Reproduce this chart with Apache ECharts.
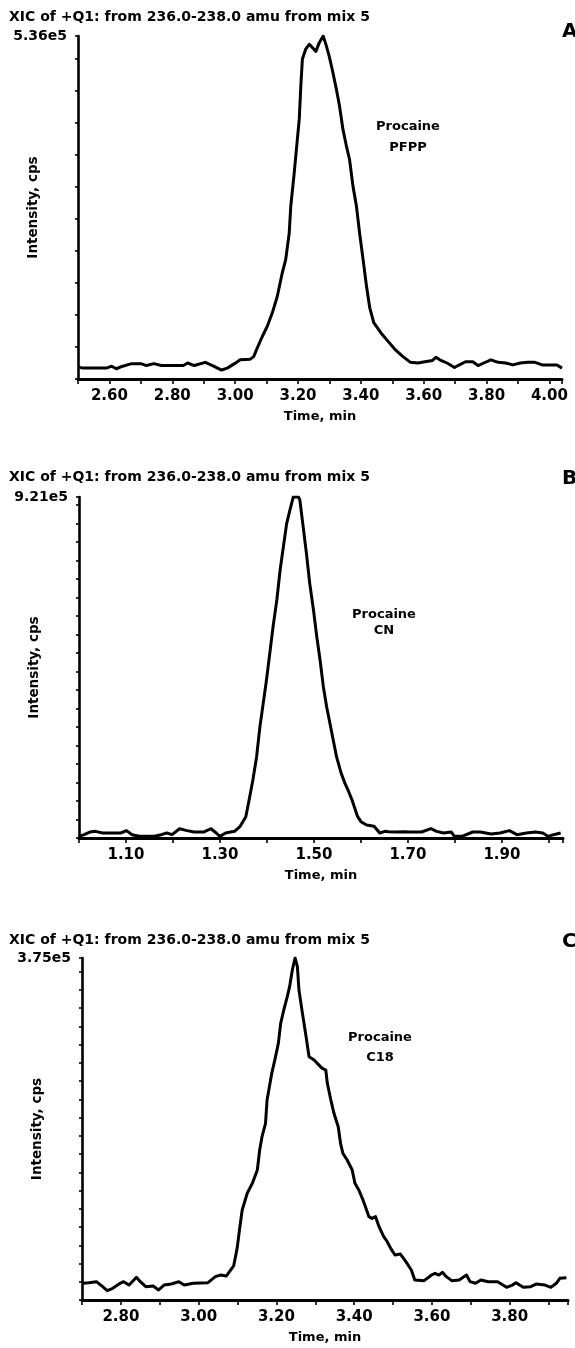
<!DOCTYPE html>
<html>
<head>
<meta charset="utf-8">
<script src="https://cdn.jsdelivr.net/npm/echarts@6/dist/echarts.min.js"></script>
<style>
html,body{margin:0;padding:0;background:#fff;}
#chart{width:575px;height:1348px;}
</style>
</head>
<body>
<div id="chart"></div>
<script>
// ---- data ----
var panelTitles = ['XIC of +Q1: from 236.0-238.0 amu from mix 5','XIC of +Q1: from 236.0-238.0 amu from mix 5','XIC of +Q1: from 236.0-238.0 amu from mix 5'];
var panelLetters = ['A','B','C'];
var compoundNames = ['Procaine','Procaine','Procaine'];
var columnNames = ['PFPP','CN','C18'];
var yMaxValues = [536000, 921000, 375000];
var yMaxLabels = ['5.36e5','9.21e5','3.75e5'];
var yTickSteps = [50000, 50000, 20000];
var xMins = [2.50, 1.00, 2.70];
var xMaxs = [4.04, 2.03, 3.95];
var xLabelParity = [0, 1, 0]; // labelled ticks: even tenths (A, C) or odd tenths (B)
var xAxisTitle = 'Time, min';
var yAxisTitle = 'Intensity, cps';

var timeA = [2.500,2.515,2.531,2.560,2.590,2.607,2.622,2.642,2.671,2.700,2.718,2.741,2.765,2.800,2.835,2.849,2.870,2.905,2.928,2.957,2.975,2.998,3.016,3.048,3.059,3.070,3.086,3.102,3.118,3.134,3.150,3.161,3.172,3.177,3.188,3.198,3.204,3.209,3.214,3.225,3.236,3.257,3.268,3.280,3.290,3.300,3.311,3.322,3.332,3.343,3.354,3.364,3.375,3.386,3.396,3.407,3.418,3.428,3.441,3.464,3.488,3.511,3.534,3.558,3.581,3.604,3.628,3.639,3.651,3.674,3.698,3.709,3.733,3.756,3.773,3.791,3.814,3.837,3.861,3.884,3.907,3.931,3.954,3.977,4.001,4.024,4.040];
var intensityA = [19000,17000,17000,17000,17000,20000,16000,20000,24000,24000,21000,24000,21000,21000,21000,25000,21000,26000,21000,14000,17000,24000,30000,31000,35000,48000,66000,82000,103000,129000,166000,187000,228000,270000,322000,375000,406000,458000,500000,516000,523000,512000,526000,536000,521000,503000,479000,453000,427000,390000,364000,343000,301000,270000,228000,187000,145000,112000,88000,72000,58000,45000,35000,26000,25000,27000,29000,34000,30000,25000,18000,21000,27000,27000,21000,25000,30000,26000,25000,22000,25000,26000,26000,22000,22000,22000,17000];

var timeB = [1.000,1.011,1.023,1.035,1.050,1.074,1.089,1.101,1.113,1.128,1.160,1.175,1.187,1.198,1.214,1.230,1.245,1.265,1.281,1.292,1.300,1.312,1.331,1.343,1.355,1.362,1.370,1.378,1.385,1.392,1.399,1.406,1.413,1.421,1.428,1.435,1.442,1.449,1.456,1.467,1.470,1.477,1.484,1.491,1.499,1.506,1.513,1.520,1.527,1.534,1.541,1.548,1.558,1.566,1.574,1.581,1.593,1.600,1.612,1.628,1.640,1.651,1.659,1.675,1.690,1.706,1.729,1.749,1.761,1.776,1.792,1.799,1.815,1.838,1.854,1.877,1.896,1.916,1.932,1.952,1.971,1.987,1.998,2.010,2.025];
var intensityB = [4500,9000,16000,18000,13500,13500,13500,20000,9000,4500,4500,9000,13500,9000,25000,20000,16000,16000,25000,13500,4500,13500,18000,31500,57600,102600,156700,219700,300700,363700,426800,498800,570800,642800,723900,786900,850000,886000,921000,921000,913000,840900,768900,687800,615800,543800,480800,408800,354700,309700,264700,219700,174700,147600,125000,102600,57600,44100,35100,31500,13500,18000,17100,16200,17100,16200,16200,25200,18000,13500,16200,4500,4500,16200,16200,11000,13500,20000,9000,13500,16200,13500,4500,9000,13500];

var timeC = [2.703,2.718,2.737,2.751,2.765,2.779,2.798,2.807,2.821,2.840,2.850,2.864,2.883,2.897,2.911,2.930,2.949,2.963,2.986,3.024,3.043,3.057,3.071,3.090,3.099,3.105,3.112,3.125,3.138,3.151,3.157,3.163,3.172,3.176,3.182,3.188,3.196,3.205,3.211,3.219,3.228,3.234,3.241,3.248,3.254,3.258,3.267,3.275,3.284,3.297,3.305,3.318,3.327,3.331,3.340,3.348,3.359,3.365,3.371,3.382,3.395,3.402,3.412,3.421,3.429,3.438,3.446,3.455,3.464,3.476,3.485,3.494,3.505,3.519,3.533,3.547,3.556,3.580,3.599,3.608,3.618,3.627,3.637,3.651,3.670,3.689,3.698,3.712,3.726,3.745,3.769,3.792,3.807,3.816,3.835,3.854,3.868,3.891,3.906,3.920,3.929,3.946];
var intensityC = [18300,19000,20100,15400,10200,12800,18300,20100,16400,24900,20100,14600,15400,11000,16400,17500,20100,16400,18300,19000,25600,27400,26300,37300,56600,76800,98700,117000,127900,142500,164500,179100,193700,219300,233900,248500,263200,281400,303400,318000,332600,343600,361800,375000,365500,339900,314300,292400,266800,263200,259500,254000,252200,237600,219300,204700,190000,171800,160800,153500,142500,127900,120600,111500,102300,91400,89500,91400,80400,69400,63900,56600,49300,50400,42000,32900,21900,21200,27400,29200,27400,30300,25600,21200,21900,27400,20100,18300,21900,20100,20100,13900,16400,19000,13900,14600,17500,16400,13900,18300,23800,24500];

var times = [timeA, timeB, timeC];
var intensities = [intensityA, intensityB, intensityC];

// ---- layout ----
var FONT = '"DejaVu Sans", Verdana, sans-serif';
var grids = [
  {left: 78, top: 36, width: 484, height: 343, outerBoundsMode: 'none', containLabel: false},
  {left: 79, top: 497, width: 484, height: 341, outerBoundsMode: 'none', containLabel: false},
  {left: 82, top: 958, width: 486, height: 342, outerBoundsMode: 'none', containLabel: false}
];
var titleY = [17, 477, 940];
var letterY = [32, 479, 942];
var compoundPos = [[408, 127, 148], [384, 615, 631], [380, 1038, 1058]];

var xAxes = [], yAxes = [], series = [], graphics = [];
for (var i = 0; i < 3; i++) {
  (function(i){
    xAxes.push({
      type: 'value', gridIndex: i, min: xMins[i], max: xMaxs[i], interval: 0.1,
      name: xAxisTitle, nameLocation: 'middle', nameGap: 31, nameMoveOverlap: false,
      nameTextStyle: {fontFamily: FONT, fontWeight: 'bold', fontSize: 13, color: '#000'},
      axisLine: {onZero: false, lineStyle: {color: '#000', width: 3}},
      axisTick: {show: true, inside: false, length: 5, lineStyle: {color: '#000', width: 1.6}},
      splitLine: {show: false},
      axisLabel: {
        margin: 10, color: '#000', fontFamily: FONT, fontWeight: 'bold', fontSize: 15,
        showMinLabel: true, showMaxLabel: true, hideOverlap: false,
        formatter: function (v) {
          var k = Math.round(v * 10);
          if (Math.abs(v * 10 - k) > 1e-6) return '';
          return (((k % 2) + 2) % 2 === xLabelParity[i]) ? v.toFixed(2) : '';
        }
      }
    });
    yAxes.push({
      type: 'value', gridIndex: i, min: 0, max: yMaxValues[i], interval: yTickSteps[i],
      name: yAxisTitle, nameLocation: 'middle', nameGap: 38, nameMoveOverlap: false,
      nameTextStyle: {fontFamily: FONT, fontWeight: 'bold', fontSize: 13.5, color: '#000'},
      axisLine: {show: true, onZero: false, lineStyle: {color: '#000', width: 2.6}},
      axisTick: {show: true, inside: false, length: 3, lineStyle: {color: '#000', width: 1.6}},
      splitLine: {show: false},
      axisLabel: {
        margin: 11, color: '#000', fontFamily: FONT, fontWeight: 'bold', fontSize: 14,
        showMaxLabel: true, verticalAlign: 'middle', padding: [6, 0, 0, 0],
        formatter: function (v) { return Math.abs(v - yMaxValues[i]) < 1 ? yMaxLabels[i] : ''; }
      }
    });
    series.push({
      type: 'line', xAxisIndex: i, yAxisIndex: i, showSymbol: false, symbol: 'none',
      silent: true, animation: false,
      lineStyle: {color: '#000', width: 3, join: 'round'},
      data: times[i].map(function (t, j) { return [t, intensities[i][j]]; })
    });
    graphics.push({type: 'text', x: 9, y: titleY[i], style: {text: panelTitles[i], font: 'bold 14px ' + FONT, fill: '#000', align: 'left', verticalAlign: 'middle'}});
    graphics.push({type: 'text', x: 562, y: letterY[i], style: {text: panelLetters[i], font: 'bold 20px ' + FONT, fill: '#000', align: 'left', verticalAlign: 'middle'}});
    graphics.push({type: 'text', x: compoundPos[i][0], y: compoundPos[i][1], style: {text: compoundNames[i], font: 'bold 13px ' + FONT, fill: '#000', align: 'center', verticalAlign: 'middle'}});
    graphics.push({type: 'text', x: compoundPos[i][0], y: compoundPos[i][2], style: {text: columnNames[i], font: 'bold 13px ' + FONT, fill: '#000', align: 'center', verticalAlign: 'middle'}});
  })(i);
}

var chart = echarts.init(document.getElementById('chart'), null, {renderer: 'canvas'});
chart.setOption({
  animation: false,
  backgroundColor: '#fff',
  grid: grids,
  xAxis: xAxes,
  yAxis: yAxes,
  series: series,
  graphic: graphics
});
</script>
</body>
</html>
